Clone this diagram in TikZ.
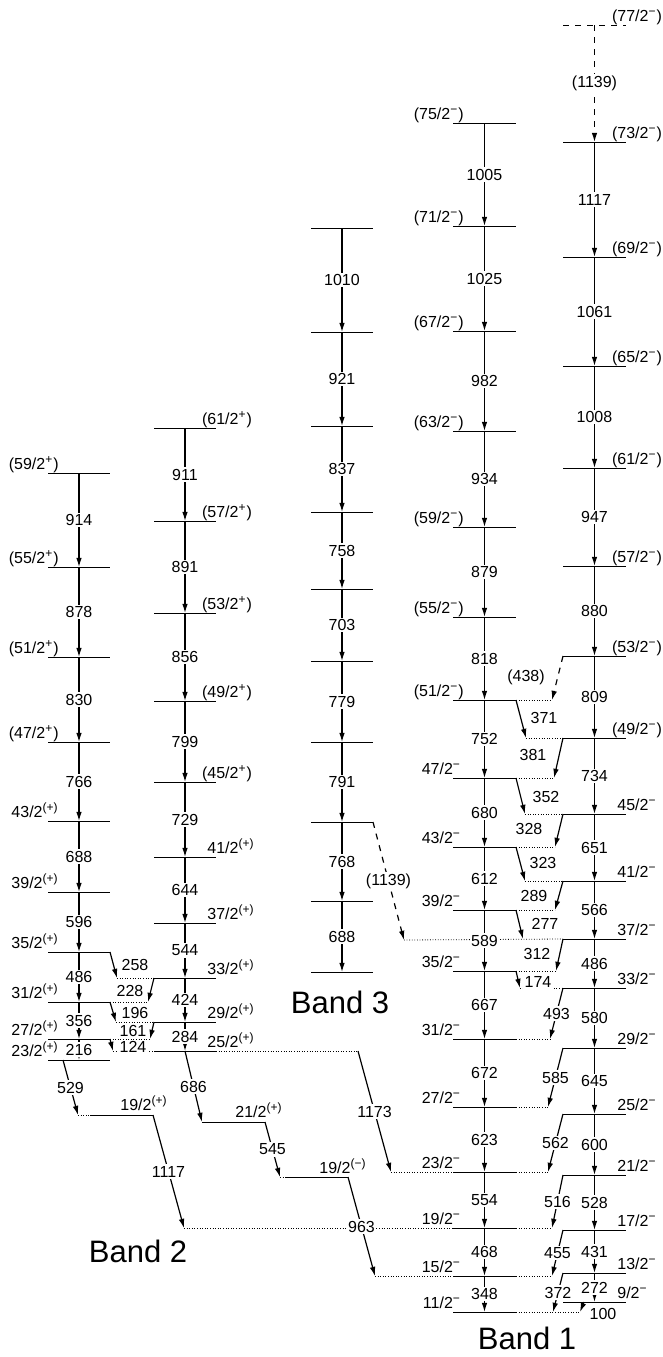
\documentclass[tikz,border=0pt]{standalone}
\usepackage{fontspec}
\setmainfont{Liberation Sans}
\usetikzlibrary{arrows.meta,calc}
\newcommand\Pp{\textsuperscript{+}}
\newcommand\Pq{\textsuperscript{(+)}}
\newcommand\Mm{\textsuperscript{−}}
\newcommand\Mq{\textsuperscript{(−)}}
\newcommand\lvl[4]{\coordinate (#1L) at (#2,#4); \coordinate (#1R) at (#3,#4); \coordinate (#1C) at ({(#2+#3)/2},#4); \draw[lev] (#1L) -- (#1R);}
\newcommand\spL[2]{\node[spl] (#1s) at ([xshift=5.5pt,yshift=1.75pt]#1L) {#2};}
\newcommand\spR[2]{\node[spr] (#1s) at ([xshift=-4.5pt,yshift=1.75pt]#1R) {#2};}
\newcommand\vt[3]{\draw[tr] (#1C) -- node[lab] (v#1) {#3} (#2C);}
\tikzset{
  lev/.style={line width=0.5pt},
  tr/.style={line width=0.6pt,-{Latex[length=4.6pt,width=2.8pt]}},
  dot/.style={line width=0.4pt,dash pattern=on 0.4pt off 0.9pt},
  lab/.style={fill=white,inner sep=0.8pt,font=\fontsize{8}{8}\selectfont},
  spl/.style={anchor=base east,inner sep=0pt,font=\fontsize{8}{8}\selectfont},
  spr/.style={anchor=base west,inner sep=0pt,font=\fontsize{8}{8}\selectfont},
  spc/.style={anchor=base,inner sep=0pt,font=\fontsize{8}{8}\selectfont},
  band/.style={inner sep=0pt,font=\fontsize{15.5}{17}\selectfont}
}
\begin{document}
\begin{tikzpicture}[x=0.5pt,y=-0.5pt]
\useasboundingbox (0,0) rectangle (663,1357);
% ---------------- Band 2a
\lvl{a59}{48}{110}{473} \lvl{a55}{48}{110}{567} \lvl{a51}{48}{110}{657}
\lvl{a47}{48}{110}{742} \lvl{a43}{48}{110}{821} \lvl{a39}{48}{110}{892}
\lvl{a35}{48}{110}{952} \lvl{a31}{48}{110}{1002} \lvl{a27}{48}{110}{1039}
\lvl{a23}{48}{110}{1060}
\spL{a59}{(59/2\Pp)} \spL{a55}{(55/2\Pp)} \spL{a51}{(51/2\Pp)} \spL{a47}{(47/2\Pp)}
\spL{a43}{43/2\Pq} \spL{a39}{39/2\Pq} \spL{a35}{35/2\Pq} \spL{a31}{31/2\Pq}
\spL{a27}{27/2\Pq} \spL{a23}{23/2\Pq}
% ---------------- Band 2b
\lvl{b61}{154}{216}{428} \lvl{b57}{154}{216}{521} \lvl{b53}{154}{216}{613}
\lvl{b49}{154}{216}{701} \lvl{b45}{154}{216}{782} \lvl{b41}{154}{216}{857}
\lvl{b37}{154}{216}{923} \lvl{b33}{154}{216}{978} \lvl{b29}{154}{216}{1022}
\lvl{b25}{154}{216}{1051}
\spR{b61}{\llap{(}61/2\Pp)} \spR{b57}{\llap{(}57/2\Pp)} \spR{b53}{\llap{(}53/2\Pp)}
\spR{b49}{\llap{(}49/2\Pp)} \spR{b45}{\llap{(}45/2\Pp)} \spR{b41}{41/2\Pq}
\spR{b37}{37/2\Pq} \spR{b33}{33/2\Pq} \spR{b29}{29/2\Pq} \spR{b25}{25/2\Pq}
% ---------------- Band 2 low levels
\lvl{c19}{90}{153}{1115} \lvl{d21}{202}{265}{1122} \lvl{e19}{285}{348}{1177}
\node[spc] (c19s) at (144,1110) {19/2\Pq};
\node[spc] (d21s) at (259,1117) {21/2\Pq};
\node[spc] (e19s) at (343,1173) {19/2\Mq};
% ---------------- Band 3
\lvl{g1}{311}{373}{228} \lvl{g2}{311}{373}{332} \lvl{g3}{311}{373}{426}
\lvl{g4}{311}{373}{512} \lvl{g5}{311}{373}{589} \lvl{g6}{311}{373}{661}
\lvl{g7}{311}{373}{742} \lvl{g8}{311}{373}{822} \lvl{g9}{311}{373}{901}
\lvl{g10}{311}{373}{972}
% ---------------- Band 1a
\lvl{m75}{453}{516}{123} \lvl{m71}{453}{516}{226} \lvl{m67}{453}{516}{331}
\lvl{m63}{453}{516}{431} \lvl{m59}{453}{516}{527} \lvl{m55}{453}{516}{617}
\lvl{m51}{453}{516}{700} \lvl{m47}{453}{516}{778} \lvl{m43}{453}{516}{847}
\lvl{m39}{453}{516}{910} \lvl{m35}{453}{516}{971} \lvl{m31}{453}{516}{1039}
\lvl{m27}{453}{516}{1107} \lvl{m23}{453}{516}{1172} \lvl{m19}{453}{516}{1228}
\lvl{m15}{453}{516}{1276} \lvl{m11}{453}{516}{1312}
\spL{m75}{(75/2\Mm)} \spL{m71}{(71/2\Mm)} \spL{m67}{(67/2\Mm)} \spL{m63}{(63/2\Mm)}
\spL{m59}{(59/2\Mm)} \spL{m55}{(55/2\Mm)} \spL{m51}{(51/2\Mm)}
\spL{m47}{47/2\Mm\,} \spL{m43}{43/2\Mm\,} \spL{m39}{39/2\Mm\,} \spL{m35}{35/2\Mm\,}
\spL{m31}{31/2\Mm\,} \spL{m27}{27/2\Mm\,} \spL{m23}{23/2\Mm\,} \spL{m19}{19/2\Mm\,}
\spL{m15}{15/2\Mm\,} \spL{m11}{11/2\Mm\,}
% ---------------- Band 1b
\coordinate (n77L) at (563,25); \coordinate (n77R) at (626,25); \coordinate (n77C) at (594.5,25);
\draw[lev,dashed] (n77L) -- (n77R);
\lvl{n73}{563}{626}{142} \lvl{n69}{563}{626}{257} \lvl{n65}{563}{626}{366}
\lvl{n61}{563}{626}{468} \lvl{n57}{563}{626}{566} \lvl{n53}{563}{626}{656}
\lvl{n49}{563}{626}{738} \lvl{n45}{563}{626}{814} \lvl{n41}{563}{626}{881}
\lvl{n37}{563}{626}{939} \lvl{n33}{563}{626}{988} \lvl{n29}{563}{626}{1048}
\lvl{n25}{563}{626}{1114} \lvl{n21}{563}{626}{1175} \lvl{n17}{563}{626}{1230}
\lvl{n13}{563}{626}{1273} \lvl{n9}{563}{626}{1302}
\spR{n77}{\llap{(}77/2\Mm)} \spR{n73}{\llap{(}73/2\Mm)} \spR{n69}{\llap{(}69/2\Mm)}
\spR{n65}{\llap{(}65/2\Mm)} \spR{n61}{\llap{(}61/2\Mm)} \spR{n57}{\llap{(}57/2\Mm)}
\spR{n53}{\llap{(}53/2\Mm)} \spR{n49}{\llap{(}49/2\Mm)}
\spR{n45}{45/2\Mm} \spR{n41}{41/2\Mm} \spR{n37}{37/2\Mm} \spR{n33}{33/2\Mm}
\spR{n29}{29/2\Mm} \spR{n25}{25/2\Mm} \spR{n21}{21/2\Mm} \spR{n17}{17/2\Mm}
\spR{n13}{13/2\Mm} \spR{n9}{9/2\Mm}
% ---------------- free ends of connectors
\coordinate (t258) at (117,978);  \coordinate (t228) at (148,1002);
\coordinate (t196) at (116,1022); \coordinate (t161) at (150,1039);
\coordinate (t124) at (113,1051);
\coordinate (s529) at (63,1060);  \coordinate (t529) at (78,1115);
\coordinate (t1117) at (184,1228); \coordinate (t545) at (280,1177);
\coordinate (t963) at (375,1276);
\coordinate (s1173) at (358,1051); \coordinate (t1173) at (391,1172);
\coordinate (t1139) at (404,940);
\coordinate (t438) at (552,700); \coordinate (t371) at (526,738);
\coordinate (t381) at (554,778); \coordinate (t352) at (525,814);
\coordinate (t328) at (555,847); \coordinate (t323) at (525,881);
\coordinate (t289) at (555,910); \coordinate (t277) at (523,939);
\coordinate (t312) at (556,971); \coordinate (t174) at (520,988);
\coordinate (t493) at (550,1039); \coordinate (t585) at (548,1107);
\coordinate (t562) at (548,1172); \coordinate (t516) at (552,1228);
\coordinate (t455) at (552,1276); \coordinate (t372) at (553,1312);
\coordinate (s100) at (584,1302); \coordinate (t100) at (580,1312);
% ---------------- dotted level extensions
\draw[dot] (t258) -- (b33L); \draw[dot] (a31R) -- (t228);
\draw[dot] (t196) -- (b29L); \draw[dot] (a27R) -- (t161);
\draw[dot] (t124) -- (b25L); \draw[dot] (b25R) -- (s1173);
\draw[dot] (t529) -- (c19L); \draw[dot] (t545) -- (e19L);
\draw[dot] (t1117) -- (m19L); \draw[dot] (t963) -- (m15L);
\draw[dot] (t1173) -- (m23L); \draw[dot] (t1139) -- (n37L);
\draw[dot] (m51R) -- (t438); \draw[dot] (t371) -- (n49L);
\draw[dot] (m47R) -- (t381); \draw[dot] (t352) -- (n45L);
\draw[dot] (m43R) -- (t328); \draw[dot] (t323) -- (n41L);
\draw[dot] (m39R) -- (t289); \draw[dot] (m35R) -- (t312);
\draw[dot] (t174) -- (n33L); \draw[dot] (m31R) -- (t493);
\draw[dot] (m27R) -- (t585); \draw[dot] (m23R) -- (t562);
\draw[dot] (m19R) -- (t516); \draw[dot] (m15R) -- (t455);
\draw[dot] (m11R) -- (t100);
% ---------------- vertical transitions
\vt{a59}{a55}{914} \vt{a55}{a51}{878} \vt{a51}{a47}{830} \vt{a47}{a43}{766}
\vt{a43}{a39}{688} \vt{a39}{a35}{596} \vt{a35}{a31}{486} \vt{a31}{a27}{356}
\vt{a27}{a23}{216}
\vt{b61}{b57}{911} \vt{b57}{b53}{891} \vt{b53}{b49}{856} \vt{b49}{b45}{799}
\vt{b45}{b41}{729} \vt{b41}{b37}{644} \vt{b37}{b33}{544} \vt{b33}{b29}{424}
\vt{b29}{b25}{284}
\vt{g1}{g2}{1010} \vt{g2}{g3}{921} \vt{g3}{g4}{837} \vt{g4}{g5}{758}
\vt{g5}{g6}{703} \vt{g6}{g7}{779} \vt{g7}{g8}{791} \vt{g8}{g9}{768} \vt{g9}{g10}{688}
\vt{m75}{m71}{1005} \vt{m71}{m67}{1025} \vt{m67}{m63}{982} \vt{m63}{m59}{934}
\vt{m59}{m55}{879} \vt{m55}{m51}{818} \vt{m51}{m47}{752} \vt{m47}{m43}{680}
\vt{m43}{m39}{612} \vt{m39}{m35}{589} \vt{m35}{m31}{667} \vt{m31}{m27}{672}
\vt{m27}{m23}{623} \vt{m23}{m19}{554} \vt{m19}{m15}{468} \vt{m15}{m11}{348}
\draw[tr,dashed] (n77C) -- node[lab] (vn77) {(1139)} (n73C);
\vt{n73}{n69}{1117} \vt{n69}{n65}{1061} \vt{n65}{n61}{1008} \vt{n61}{n57}{947}
\vt{n57}{n53}{880} \vt{n53}{n49}{809} \vt{n49}{n45}{734} \vt{n45}{n41}{651}
\vt{n41}{n37}{566} \vt{n37}{n33}{486} \vt{n33}{n29}{580} \vt{n29}{n25}{645}
\vt{n25}{n21}{600} \vt{n21}{n17}{528} \vt{n17}{n13}{431} \vt{n13}{n9}{272}
% ---------------- band 2 crossings
\draw[tr] (a35R) -- (t258); \node[lab] (l258) at (135,965) {258};
\draw[tr] (b33L) -- (t228); \node[lab] (l228) at (130,991) {228};
\draw[tr] (a31R) -- (t196); \node[lab] (l196) at (135,1013) {196};
\draw[tr] (b29L) -- (t161); \node[lab] (l161) at (133,1031) {161};
\draw[tr] (a27R) -- (t124); \node[lab] (l124) at (133,1047) {124};
\draw[tr] (s529) -- node[lab] (l529) {529} (t529);
\draw[tr] (c19R) -- node[lab] (l1117) {1117} (t1117);
\draw[tr] (b25C) -- node[lab] (l686) {686} (d21L);
\draw[tr] (d21R) -- node[lab] (l545) {545} (t545);
\draw[tr] (e19R) -- node[lab] (l963) {963} (t963);
\draw[tr] (s1173) -- node[lab] (l1173) {1173} (t1173);
\draw[tr,dashed] (g8R) -- node[lab] (l1139) {(1139)} (t1139);
% ---------------- band 1 crossings
\draw[tr,dashed] (n53L) -- (t438); \node[lab] (l438) at (526,677) {(438)};
\draw[tr] (m51R) -- (t371); \node[lab] (l371) at (544,718) {371};
\draw[tr] (n49L) -- (t381); \node[lab] (l381) at (533,755) {381};
\draw[tr] (m47R) -- (t352); \node[lab] (l352) at (546,797) {352};
\draw[tr] (n45L) -- (t328); \node[lab] (l328) at (529,829) {328};
\draw[tr] (m43R) -- (t323); \node[lab] (l323) at (543,863) {323};
\draw[tr] (n41L) -- (t289); \node[lab] (l289) at (534,896) {289};
\draw[tr] (m39R) -- (t277); \node[lab] (l277) at (545,924) {277};
\draw[tr] (n37L) -- (t312); \node[lab] (l312) at (537,954) {312};
\draw[tr] (m35R) -- (t174); \node[lab] (l174) at (538,982) {174};
\draw[tr] (n33L) -- node[lab] (l493) {493} (t493);
\draw[tr] (n29L) -- node[lab] (l585) {585} (t585);
\draw[tr] (n25L) -- node[lab] (l562) {562} (t562);
\draw[tr] (n21L) -- node[lab] (l516) {516} (t516);
\draw[tr] (n17L) -- node[lab] (l455) {455} (t455);
\draw[tr] (n13L) -- node[lab] (l372) {372} (t372);
\draw[tr] (s100) -- (t100); \node[lab] (l100) at (603,1314) {100};
% ---------------- band names
\node[band] (B3) at (340,1002) {Band 3};
\node[band] (B2) at (138,1251) {Band 2};
\node[band] (B1) at (527,1338) {Band 1};
\end{tikzpicture}
\end{document}
